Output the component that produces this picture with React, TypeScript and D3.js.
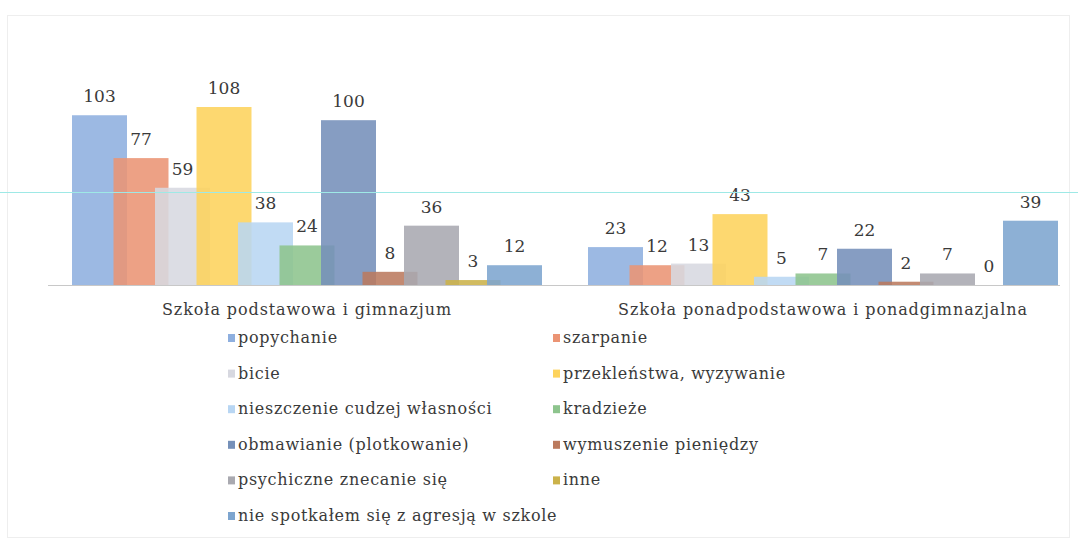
import React, { useEffect, useRef } from 'react';
import * as d3 from 'd3';

// ====

const groups = ['Szkoła podstawowa i gimnazjum', 'Szkoła ponadpodstawowa i ponadgimnazjalna'];

const series = [
    'popychanie',
    'szarpanie',
    'bicie',
    'przekleństwa, wyzywanie',
    'nieszczenie cudzej własności',
    'kradzieże',
    'obmawianie (plotkowanie)',
    'wymuszenie pieniędzy',
    'psychiczne znecanie się',
    'inne',
    'nie spotkałem się z agresją w szkole'
];

const colors = [
    '#8eafdf', '#eb9474', '#d7d8e0', '#fdd35c', '#b8d6f3', '#8dc48d',
    '#7590b9', '#bb7a5e', '#a9a9b0', '#cbb24a', '#7da5cf'
];

const podstawowa = [103, 77, 59, 108, 38, 24, 100, 8, 36, 3, 12];
const ponadpodstawowa = [23, 12, 13, 43, 5, 7, 22, 2, 7, 0, 39];

const values = [podstawowa, ponadpodstawowa];

const FONT = '"DejaVu Serif", serif';

// ====

export default function App() {
    const ref = useRef<SVGSVGElement>(null);

    useEffect(() => {
        const svg = d3.select(ref.current);
        svg.selectAll('*').remove();

        const baseY = 285;

        // faint frame of the scanned chart area
        svg.append('rect')
            .attr('x', 7.5).attr('y', 15.5)
            .attr('width', 1062).attr('height', 522)
            .attr('fill', 'none')
            .attr('stroke', '#eeeeee')
            .attr('stroke-width', 1);

        const x0 = d3.scaleBand().domain(groups).range([49, 1081]);
        const x1 = d3.scaleBand().domain(series).range([23, 23 + 41.5 * series.length]);
        const barW = 55;
        const y = d3.scaleLinear().domain([0, 108]).range([baseY, baseY - 178]);

        // baseline
        svg.append('line')
            .attr('x1', 48).attr('x2', 1060)
            .attr('y1', baseY + 0.5).attr('y2', baseY + 0.5)
            .attr('stroke', '#c8c8c8');

        const g = svg.selectAll('.grp')
            .data(groups)
            .enter()
            .append('g')
            .attr('class', 'grp')
            .attr('transform', (d) => `translate(${x0(d)}, 0)`);

        g.selectAll('rect')
            .data((d, gi) => values[gi].map((v, i) => ({ v, i })))
            .enter()
            .append('rect')
            .attr('x', (d) => x1(series[d.i]))
            .attr('y', (d) => y(d.v))
            .attr('width', barW)
            .attr('height', (d) => Math.max(0, baseY - y(d.v)))
            .attr('fill', (d) => colors[d.i])
            .attr('opacity', 0.88);

        g.selectAll('text.val')
            .data((d, gi) => values[gi].map((v, i) => ({ v, i })))
            .enter()
            .append('text')
            .attr('class', 'val')
            .attr('x', (d) => x1(series[d.i]) + barW / 2)
            .attr('y', (d) => y(d.v) - 13)
            .attr('text-anchor', 'middle')
            .style('font-family', FONT)
            .style('font-size', '17px')
            .style('fill', '#3a3a3a')
            .text((d) => d.v);

        // group labels
        svg.selectAll('text.cat')
            .data(groups)
            .enter()
            .append('text')
            .attr('class', 'cat')
            .attr('x', (d) => x0(d) + x0.bandwidth() / 2)
            .attr('y', 315)
            .attr('text-anchor', 'middle')
            .style('font-family', FONT)
            .style('font-size', '16px')
            .style('letter-spacing', '0.9px')
            .style('fill', '#3a3a3a')
            .text((d) => d);

        // legend
        const leg = svg.selectAll('.leg')
            .data(series)
            .enter()
            .append('g')
            .attr('class', 'leg')
            .attr('transform', (d, i) => `translate(${i % 2 === 0 ? 228 : 553}, ${338 + Math.floor(i / 2) * 35.6})`);

        leg.append('rect')
            .attr('x', 0).attr('y', -4)
            .attr('width', 7).attr('height', 8)
            .attr('fill', (d, i) => colors[i]);

        leg.append('text')
            .attr('x', 10)
            .attr('y', 5)
            .style('font-family', FONT)
            .style('font-size', '16px')
            .style('letter-spacing', '0.7px')
            .style('fill', '#3a3a3a')
            .text((d) => d);

        // cyan scanner guide line
        svg.append('line')
            .attr('x1', 0).attr('x2', 1078)
            .attr('y1', 192.5).attr('y2', 192.5)
            .attr('stroke', '#9ee9e6')
            .attr('stroke-width', 1);
    }, []);

    return (
        <svg
            ref={ref}
            width={1078}
            height={540}
            style={{ position: 'absolute', left: 0, top: 0, background: '#fff' }}>
        </svg>
    );
}
